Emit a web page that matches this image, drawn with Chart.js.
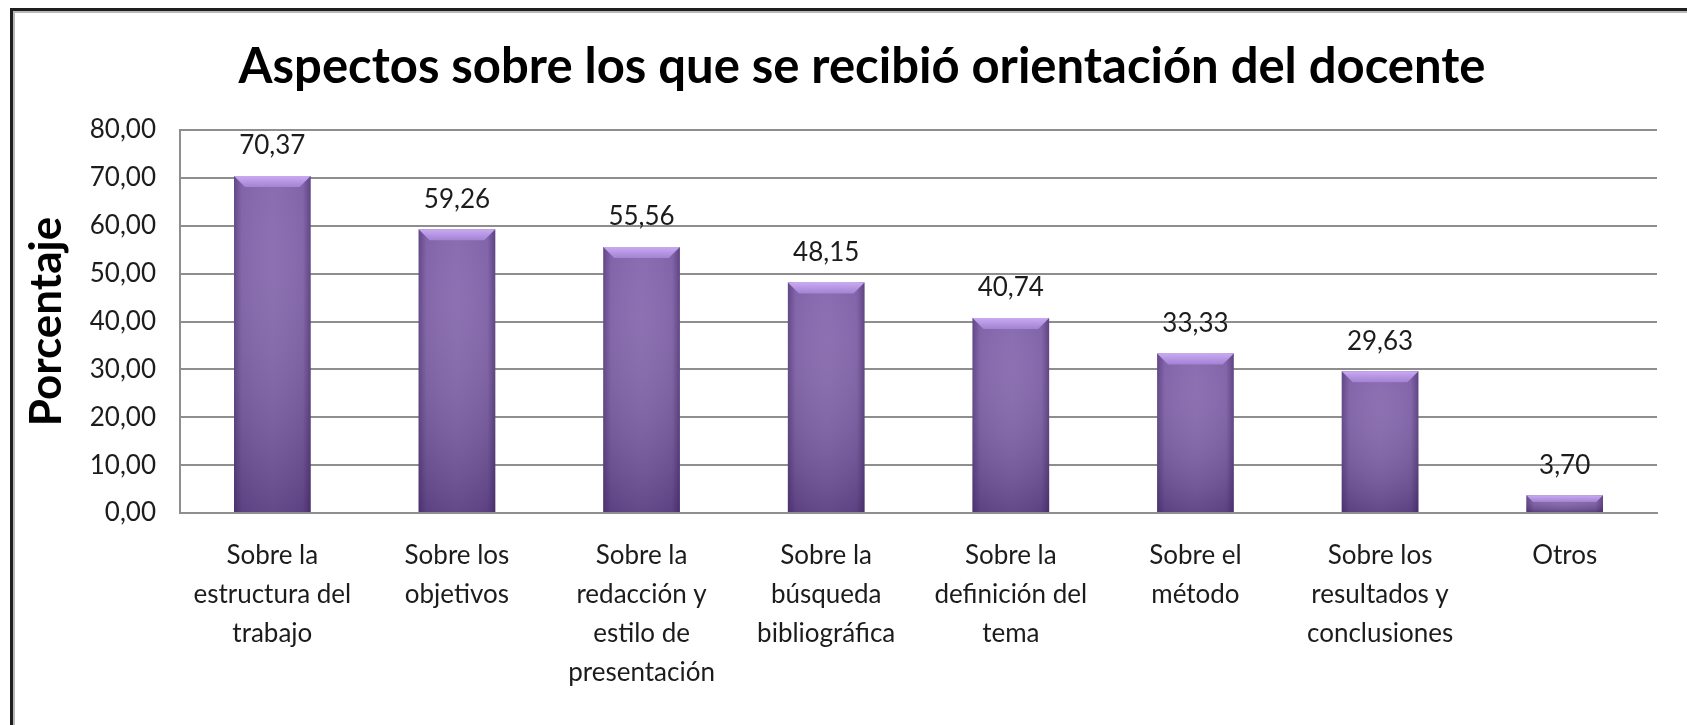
<!DOCTYPE html>
<html>
<head>
<meta charset="utf-8">
<script src="https://cdn.jsdelivr.net/npm/chart.js@4"></script>
<style>
  html, body { margin: 0; padding: 0; background: #fff; overflow: hidden; }
  body { width: 1687px; height: 725px; position: relative; }
  .frame {
    position: absolute; left: 10px; top: 8px; width: 1800px; height: 900px;
    border-left: 3px solid #1e1e1e; border-top: 3px solid #1e1e1e;
    box-shadow: inset 2px 2px 0 #b8b8b8;
  }
  .wrap { position: absolute; left: 0; top: 0; width: 1687px; height: 725px; }
</style>
</head>
<body>
<div class="frame"></div>
<div class="wrap"><canvas id="chart"></canvas></div>
<script>
const chartTitle = 'Aspectos sobre los que se recibió orientación del docente';
const axisTitle = 'Porcentaje';

const categories = [
  ['Sobre la', 'estructura del', 'trabajo'],
  ['Sobre los', 'objetivos'],
  ['Sobre la', 'redacción y', 'estilo de', 'presentación'],
  ['Sobre la', 'búsqueda', 'bibliográfica'],
  ['Sobre la', 'definición del', 'tema'],
  ['Sobre el', 'método'],
  ['Sobre los', 'resultados y', 'conclusiones'],
  ['Otros'],
];

const percentages = [70.37, 59.26, 55.56, 48.15, 40.74, 33.33, 29.63, 3.70];

const yTickLabels = ['0,00', '10,00', '20,00', '30,00', '40,00', '50,00', '60,00', '70,00', '80,00'];

const fontFamily = 'Lato, "Open Sans", sans-serif';
const textColor = '#1c1c1c';
const gridColor = '#8e8e8e';

const formatValue = (v) => v.toFixed(2).replace('.', ',');

// title sits a little right of centre in the original, so it is drawn here
const titlePlugin = {
  id: 'offsetTitle',
  afterDraw(chart) {
    const { ctx } = chart;
    ctx.save();
    ctx.fillStyle = '#000';
    ctx.font = 'bold 49px ' + fontFamily;
    ctx.textAlign = 'center';
    ctx.textBaseline = 'alphabetic';
    ctx.fillText(chartTitle, 862, 83);
    ctx.restore();
  },
};

// shading, bevel and value labels on top of plain bars
const barLookPlugin = {
  id: 'barLook',
  afterDatasetsDraw(chart) {
    const { ctx } = chart;
    const meta = chart.getDatasetMeta(0);
    ctx.save();
    meta.data.forEach((bar, i) => {
      const { x, y, base, width } = bar.getProps(['x', 'y', 'base', 'width'], true);
      const left = x - width / 2;
      const right = x + width / 2;
      const h = base - y;

      const vert = ctx.createLinearGradient(0, y, 0, base);
      vert.addColorStop(0, 'rgba(255,255,255,0.03)');
      vert.addColorStop(1, 'rgba(30,10,60,0.34)');
      ctx.fillStyle = vert;
      ctx.fillRect(left, y, width, h);

      const side = ctx.createLinearGradient(left, 0, right, 0);
      side.addColorStop(0, 'rgba(40,20,70,0.38)');
      side.addColorStop(0.1, 'rgba(40,20,70,0.05)');
      side.addColorStop(0.5, 'rgba(255,255,255,0.03)');
      side.addColorStop(0.9, 'rgba(40,20,70,0.05)');
      side.addColorStop(1, 'rgba(40,20,70,0.42)');
      ctx.fillStyle = side;
      ctx.fillRect(left, y, width, h);

      const bevel = Math.min(11, h * 0.4);
      const inset = Math.min(11, bevel);
      ctx.beginPath();
      ctx.moveTo(left, y);
      ctx.lineTo(right, y);
      ctx.lineTo(right - inset, y + bevel);
      ctx.lineTo(left + inset, y + bevel);
      ctx.closePath();
      const bg = ctx.createLinearGradient(0, y, 0, y + bevel);
      bg.addColorStop(0, '#caa9f4');
      bg.addColorStop(1, '#a283d2');
      ctx.fillStyle = bg;
      ctx.fill();

      ctx.fillStyle = textColor;
      ctx.font = '26px ' + fontFamily;
      ctx.textAlign = 'center';
      ctx.textBaseline = 'middle';
      ctx.fillText(formatValue(percentages[i]), x, y - 30);
    });
    ctx.restore();
  },
};

new Chart(document.getElementById('chart'), {
  type: 'bar',
  data: {
    labels: categories,
    datasets: [{
      data: percentages,
      backgroundColor: '#8161ab',
      borderWidth: 0,
      categoryPercentage: 1,
      barPercentage: 0.415,
    }],
  },
  options: {
    responsive: true,
    maintainAspectRatio: false,
    animation: false,
    layout: { padding: { top: 130, right: 30, bottom: 0, left: 0 } },
    scales: {
      x: {
        grid: { display: false, drawTicks: false },
        border: { display: true, color: gridColor, width: 2 },
        ticks: {
          color: textColor,
          font: { family: fontFamily, size: 26, lineHeight: 1.5 },
          padding: 23,
          maxRotation: 0,
          autoSkip: false,
        },
        afterFit: (scale) => { scale.height = 212; },
      },
      y: {
        min: 0,
        max: 80,
        grid: { color: gridColor, lineWidth: 2, drawTicks: false },
        border: { display: true, color: gridColor, width: 2 },
        ticks: {
          stepSize: 10,
          color: textColor,
          font: { family: fontFamily, size: 26 },
          padding: 24,
          callback: (value, index) => yTickLabels[index],
        },
        title: {
          display: true,
          text: axisTitle,
          color: '#000',
          font: { family: fontFamily, size: 44, weight: 'bold', lineHeight: 1.2 },
          padding: { top: 20, bottom: 0 },
        },
        afterFit: (scale) => { scale.width = 180; },
      },
    },
    plugins: {
      legend: { display: false },
      tooltip: { enabled: false },
      title: { display: false },
    },
  },
  plugins: [barLookPlugin, titlePlugin],
});
</script>
</body>
</html>
